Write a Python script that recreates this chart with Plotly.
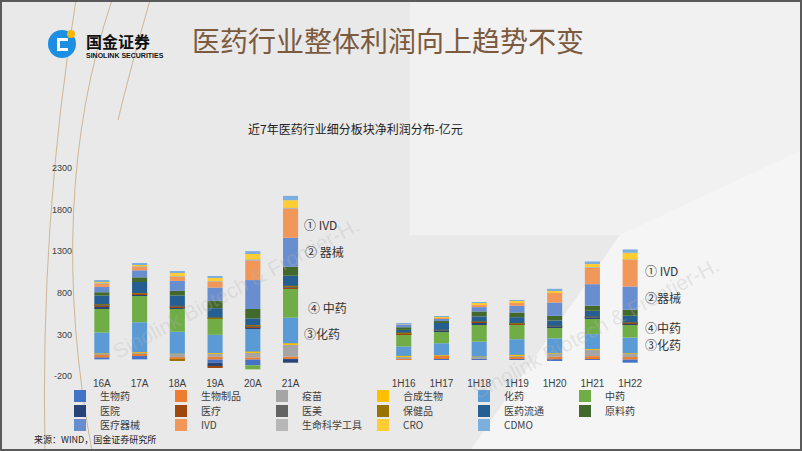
import plotly.graph_objects as go

# ---------------- data ----------------
categories = ["16A", "17A", "18A", "19A", "20A", "21A", " ", "  ",
              "1H16", "1H17", "1H18", "1H19", "1H20", "1H21", "1H22"]

series_names = ["生物药", "生物制品", "疫苗", "合成生物", "化药", "中药",
                "医院", "医疗", "医美", "保健品", "医药流通", "原料药",
                "医疗器械", "IVD", "生命科学工具", "CRO", "CDMO"]

series_colors = ["#4472C4", "#ED7D31", "#A5A5A5", "#FFC000", "#5B9BD5", "#70AD47",
                 "#264478", "#9E480E", "#636363", "#997300", "#255E91", "#43682B",
                 "#698ED0", "#F1975A", "#B7B7B7", "#FFCD33", "#7CAFDD"]

N = None
# values (亿元) per category, blanks for the two spacer slots
生物药 =       [25, 40, 5, -40, -72, 5, N, N, 3, 5, 10, 3, -10, 3, -40]
生物制品 =     [36, 36, 20, 30, 24, 28, N, N, 12, 36, 5, 30, 30, 36, 28]
疫苗 =         [5, 5, 40, 40, 64, 140, N, N, 24, 5, 15, 18, 40, 80, 40]
合成生物 =     [5, 5, 3, 5, 5, 20, N, N, 3, 3, 3, 3, 3, 5, 5]
化药 =         [252, 360, 264, 220, 272, 308, N, N, 112, 145, 180, 188, 180, 180, 188]
中药 =         [292, 324, 280, 192, -48, 352, N, N, 140, 145, 200, 172, 132, 192, 160]
医院 =         [16, 10, 15, -45, 20, -40, N, N, 8, 6, 30, 8, 8, 6, 10]
医疗 =         [16, 8, 12, -12, 15, 15, N, N, 8, 5, 6, 6, 5, 5, 6]
医美 =         [8, 5, 8, 8, 8, 10, N, N, 6, 3, 4, 4, 3, 3, 4]
保健品 =       [8, 5, -15, 8, 5, 7, N, N, 6, 3, 3, 3, 2, 2, 3]
医药流通 =     [104, 132, 120, 112, 80, 120, N, N, 32, 84, 60, 72, 64, 72, 80]
原料药 =       [40, 56, 56, 88, 112, 108, N, N, 32, 20, 60, 56, 56, 60, 72]
医疗器械 =     [64, 84, 120, 160, 348, 348, N, N, 28, 28, 52, 80, 160, 260, 280]
IVD =          [44, 44, 52, 72, 240, 352, N, N, 10, 12, 28, 40, 120, 200, 320]
生命科学工具 = [5, 5, 5, 5, 8, 8, N, N, 2, 2, 3, 3, 5, 5, 5]
CRO =          [20, 24, 40, 40, 76, 92, N, N, 8, 16, 20, 16, 24, 48, 80]
CDMO =         [5, 5, 12, 16, 24, 52, N, N, 2, 3, 8, 4, 16, 20, 40]

series_values = [生物药, 生物制品, 疫苗, 合成生物, 化药, 中药, 医院, 医疗, 医美,
                 保健品, 医药流通, 原料药, 医疗器械, IVD, 生命科学工具, CRO, CDMO]

y_ticks = [-200, 300, 800, 1300, 1800, 2300]

# ---------------- layout geometry ----------------
W, H = 802, 451
L, R, T, B = 83, 153, 168, 75
PW, PH = W - L - R, H - T - B


def px(x):
    return (x - L) / PW


def py(y):
    return (H - B - y) / PH


fig = go.Figure()

legend_keys = ["legend", "legend2", "legend3"]
for i, (name, vals, col) in enumerate(zip(series_names, series_values, series_colors)):
    fig.add_trace(go.Bar(
        x=categories, y=vals, name=name,
        marker=dict(color=col, line=dict(width=0)),
        legend=legend_keys[i // 6],
    ))

CJK = "Noto Sans CJK SC"
LAT = "Liberation Sans, Arial"

legend_common = dict(
    orientation="h", xanchor="left", yanchor="middle",
    bgcolor="rgba(0,0,0,0)", borderwidth=0,
    font=dict(family=CJK, size=10, color="#404040"),
    entrywidth=56, entrywidthmode="pixels",
    itemsizing="constant", tracegroupgap=0, itemclick=False,
)

annotations = []


def txt(text, x, y, size, color="#333", family=CJK, xanchor="left", **kw):
    annotations.append(dict(text=text, x=px(x), y=py(y), xref="paper", yref="paper",
                            xanchor=xanchor, yanchor="middle", showarrow=False,
                            font=dict(family=family, size=size, color=color), **kw))


# watermarks
txt("Sinolink Biotech & Frontier-H.", 235, 288, 21, color="rgba(180,180,180,0.28)",
    family=LAT, xanchor="center", textangle=-28)
txt("Sinolink Biotech & Frontier-H.", 595, 328, 21, color="rgba(180,180,180,0.28)",
    family=LAT, xanchor="center", textangle=-28)

# headings
txt("医药行业整体利润向上趋势不变", 388, 40, 28, color="#7B5A3E", xanchor="center")
txt("<b>国金证券</b>", 84, 41, 16, color="#111")
txt("<b>SINOLINK SECURITIES</b>", 84, 56, 7, color="#111", family=LAT)
txt("近7年医药行业细分板块净利润分布-亿元", 355, 128, 12, color="#222", xanchor="center")
txt("来源：WIND，国金证券研究所", 32, 439, 9, color="#222")

# segment labels
for t, x, y in [("① IVD", 302, 224), ("② 器械", 303, 251), ("④ 中药", 306, 307), ("③化药", 302, 333),
                ("① IVD", 643, 270), ("②器械", 643, 297), ("④中药", 643, 327), ("③化药", 643, 344)]:
    annotations.append(dict(text=t, x=px(x), y=py(y), xref="paper", yref="paper",
                            xanchor="left", yanchor="middle", showarrow=False,
                            font=dict(family=CJK, size=12, color="#333")))

shapes = []
# background lighter regions
shapes.append(dict(type="path", xref="paper", yref="paper", layer="below",
                   path=f"M{px(410)},{py(0)} L{px(802)},{py(0)} L{px(802)},{py(451)} L{px(470)},{py(451)} L{px(620)},{py(235)} L{px(410)},{py(235)} Z",
                   fillcolor="#f1f1f1", line=dict(width=0)))
shapes.append(dict(type="path", xref="paper", yref="paper", layer="below",
                   path=f"M{px(620)},{py(235)} L{px(802)},{py(150)} L{px(802)},{py(451)} L{px(470)},{py(451)} Z",
                   fillcolor="#f5f5f5", line=dict(width=0)))
# gold curves
for p in [((76, 0), (40, 220), (45, 451)),
          ((112, 0), (45, 200), (92, 451)),
          ((150, 0), (130, 70), (118, 120))]:
    (x0, y0), (xc, yc), (x1, y1) = p
    shapes.append(dict(type="path", xref="paper", yref="paper", layer="below",
                       path=f"M{px(x0)},{py(y0)} Q{px(xc)},{py(yc)} {px(x1)},{py(y1)}",
                       line=dict(color="#cdb794", width=1)))
# logo
shapes.append(dict(type="circle", xref="paper", yref="paper",
                   x0=px(48), x1=px(76), y0=py(58), y1=py(30),
                   fillcolor="#1c8fe2", line=dict(width=0)))
shapes.append(dict(type="rect", xref="paper", yref="paper",
                   x0=px(57), x1=px(68), y0=py(51), y1=py(38),
                   fillcolor="#ffffff", line=dict(width=0)))
shapes.append(dict(type="rect", xref="paper", yref="paper",
                   x0=px(60), x1=px(68), y0=py(48), y1=py(41),
                   fillcolor="#1c8fe2", line=dict(width=0)))
shapes.append(dict(type="circle", xref="paper", yref="paper",
                   x0=px(67), x1=px(75), y0=py(38), y1=py(30),
                   fillcolor="#f5b800", line=dict(width=0)))
# frame
shapes.append(dict(type="rect", xref="paper", yref="paper",
                   x0=px(1), x1=px(801), y0=py(450), y1=py(1),
                   line=dict(color="#5a5a5a", width=2), fillcolor="rgba(0,0,0,0)"))

layout = dict(
    width=W, height=H,
    margin=dict(l=L, r=R, t=T, b=B, pad=0),
    paper_bgcolor="#e9e9e9", plot_bgcolor="rgba(0,0,0,0)",
    barmode="relative", bargap=0.6,
    xaxis=dict(type="category", categoryorder="array", categoryarray=categories,
               range=[-0.5, len(categories) - 0.5], showgrid=False, zeroline=False,
               showline=False, ticks="", tickfont=dict(family=LAT, size=10, color="#404040"),
               fixedrange=True),
    yaxis=dict(range=[-200, 2300], tickvals=y_ticks, ticktext=[str(v) for v in y_ticks],
               showgrid=False, zeroline=False, showline=False, ticks="",
               tickfont=dict(family=LAT, size=9, color="#404040"),
               ticklabelstandoff=10, fixedrange=True),
    legend=dict(legend_common, x=px(60), y=py(396)),
    legend2=dict(legend_common, x=px(60), y=py(411)),
    legend3=dict(legend_common, x=px(60), y=py(425)),
    annotations=annotations, shapes=shapes,
    showlegend=True,
)
fig.update_layout(**layout)
fig.write_html("out.html", config={"displayModeBar": False},
               post_script="document.body.style.margin='0';document.body.style.overflow='hidden';")
